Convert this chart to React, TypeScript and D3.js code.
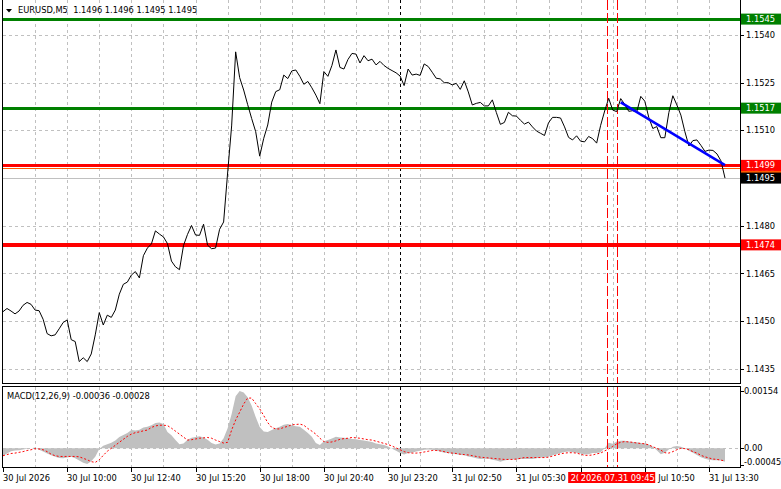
import React from "react";
import * as d3 from "d3";

const W = 781;
const H = 489;

// bars are 5-minute bars; closes sampled every 2 bars
const SAMPLE_STEP = 2;
const LAST_BAR = 360;

const priceCloses = [
  1.14530, 1.14540, 1.14532, 1.14523, 1.14532, 1.14550, 1.14559, 1.14553, 1.14535, 1.14533,
  1.14506, 1.14461, 1.14454, 1.14457, 1.14476, 1.14496, 1.14504, 1.14442, 1.14436, 1.14373,
  1.14385, 1.14373, 1.14397, 1.14457, 1.14527, 1.14488, 1.14519, 1.14512, 1.14535, 1.14585,
  1.14616, 1.14623, 1.14645, 1.14656, 1.14636, 1.14706, 1.14730, 1.14743, 1.14784, 1.14774,
  1.14765, 1.14744, 1.14689, 1.14671, 1.14662, 1.14738, 1.14773, 1.14801, 1.14771, 1.14770,
  1.14805, 1.14739, 1.14728, 1.14730, 1.14789, 1.14812, 1.14966, 1.15114, 1.15347, 1.15266,
  1.15227, 1.15181, 1.15137, 1.15096, 1.15019, 1.15075, 1.15117, 1.15189, 1.15222, 1.15228,
  1.15274, 1.15263, 1.15287, 1.15290, 1.15270, 1.15245, 1.15254, 1.15234, 1.15211, 1.15184,
  1.15285, 1.15270, 1.15304, 1.15353, 1.15298, 1.15293, 1.15323, 1.15342, 1.15340, 1.15312,
  1.15335, 1.15319, 1.15324, 1.15306, 1.15317, 1.15304, 1.15295, 1.15288, 1.15281, 1.15271,
  1.15241, 1.15293, 1.15274, 1.15277, 1.15273, 1.15309, 1.15301, 1.15283, 1.15264, 1.15262,
  1.15250, 1.15250, 1.15243, 1.15248, 1.15229, 1.15256, 1.15221, 1.15180, 1.15185, 1.15188,
  1.15177, 1.15177, 1.15196, 1.15156, 1.15119, 1.15125, 1.15157, 1.15146, 1.15145, 1.15132,
  1.15120, 1.15126, 1.15111, 1.15098, 1.15091, 1.15084, 1.15124, 1.15141, 1.15141, 1.15139,
  1.15111, 1.15078, 1.15070, 1.15083, 1.15066, 1.15064, 1.15081, 1.15074, 1.15060, 1.15116,
  1.15161, 1.15201, 1.15164, 1.15159, 1.15200, 1.15182, 1.15160, 1.15162, 1.15158, 1.15207,
  1.15192, 1.15141, 1.15106, 1.15112, 1.15077, 1.15077, 1.15156, 1.15209, 1.15180, 1.15148,
  1.15096, 1.15051, 1.15068, 1.15070, 1.15053, 1.15034, 1.15038, 1.15037, 1.15026, 1.15004,
  1.14950,
];

const macdHist = [
  -0.00020, -0.00014, -0.00008, -0.00006, -0.00005, -0.00003, -0.00001, 0, 0.00002, -0.00004,
  -0.00009, -0.00014, -0.00019, -0.00023, -0.00026, -0.00027, -0.00025, -0.00023, -0.00027, -0.00033,
  -0.00039, -0.00042, -0.00035, -0.00023, -0.00002, 0.00007, 0.00011, 0.00015, 0.00021, 0.00030,
  0.00036, 0.00041, 0.00049, 0.00048, 0.00050, 0.00056, 0.00058, 0.00062, 0.00068, 0.00069,
  0.00065, 0.00044, 0.00035, 0.00022, 0.00011, 0.00013, 0.00023, 0.00028, 0.00030, 0.00032,
  0.00029, 0.00023, 0.00014, 0.00010, 0.00013, 0.00027, 0.00054, 0.00092, 0.00140, 0.00154,
  0.00150, 0.00137, 0.00114, 0.00084, 0.00057, 0.00045, 0.00044, 0.00049, 0.00054, 0.00058,
  0.00063, 0.00065, 0.00062, 0.00059, 0.00058, 0.00050, 0.00041, 0.00031, 0.00014, 0.00009,
  0.00019, 0.00022, 0.00026, 0.00031, 0.00029, 0.00028, 0.00027, 0.00025, 0.00024, 0.00022,
  0.00021, 0.00019, 0.00017, 0.00013, 0.00011, 0.00009, 0.00005, -0.00001, -0.00007, -0.00013,
  -0.00017, -0.00013, -0.00012, -0.00009, -0.00007, -0.00004, -0.00003, -0.00004, -0.00006, -0.00009,
  -0.00012, -0.00013, -0.00015, -0.00016, -0.00018, -0.00019, -0.00022, -0.00024, -0.00027, -0.00029,
  -0.00028, -0.00028, -0.00031, -0.00033, -0.00036, -0.00033, -0.00031, -0.00030, -0.00030, -0.00029,
  -0.00029, -0.00029, -0.00029, -0.00027, -0.00025, -0.00025, -0.00023, -0.00019, -0.00016, -0.00013,
  -0.00010, -0.00009, -0.00011, -0.00012, -0.00014, -0.00017, -0.00016, -0.00013, -0.00013, -0.00011,
  0, 0.00015, 0.00012, 0.00018, 0.00020, 0.00020, 0.00018, 0.00017, 0.00016, 0.00014,
  0.00013, 0.00010, 0.00004, -0.00005, -0.00016, -0.00012, -0.00003, 0.00004, 0.00006, 0.00004,
  0, -0.00007, -0.00012, -0.00018, -0.00024, -0.00028, -0.00031, -0.00032, -0.00032, -0.00033,
  -0.00036,
];

const macdSignal = [
  -0.00020, -0.00017, -0.00014, -0.00013, -0.00011, -0.00009, -0.00006, -0.00004, -0.00001, -0.00002,
  -0.00004, -0.00009, -0.00016, -0.00020, -0.00022, -0.00022, -0.00022, -0.00022, -0.00022, -0.00023,
  -0.00027, -0.00031, -0.00036, -0.00038, -0.00031, -0.00019, -0.00008, 0, 0.00008, 0.00016,
  0.00024, 0.00032, 0.00038, 0.00042, 0.00044, 0.00047, 0.00049, 0.00056, 0.00060, 0.00062,
  0.00062, 0.00061, 0.00054, 0.00046, 0.00038, 0.00030, 0.00022, 0.00023, 0.00025, 0.00027,
  0.00028, 0.00029, 0.00027, 0.00022, 0.00018, 0.00014, 0.00016, 0.00049, 0.00076, 0.00097,
  0.00119, 0.00135, 0.00135, 0.00120, 0.00106, 0.00088, 0.00069, 0.00056, 0.00052, 0.00052,
  0.00056, 0.00059, 0.00063, 0.00064, 0.00065, 0.00062, 0.00053, 0.00046, 0.00038, 0.00027,
  0.00018, 0.00016, 0.00017, 0.00020, 0.00024, 0.00026, 0.00027, 0.00029, 0.00028, 0.00027,
  0.00025, 0.00023, 0.00022, 0.00019, 0.00016, 0.00013, 0.00010, 0.00006, 0.00001, -0.00004,
  -0.00009, -0.00012, -0.00013, -0.00013, -0.00012, -0.00010, -0.00008, -0.00006, -0.00006, -0.00007,
  -0.00009, -0.00012, -0.00013, -0.00014, -0.00016, -0.00017, -0.00018, -0.00020, -0.00022, -0.00024,
  -0.00025, -0.00026, -0.00027, -0.00028, -0.00029, -0.00030, -0.00030, -0.00030, -0.00029, -0.00027,
  -0.00025, -0.00025, -0.00025, -0.00025, -0.00025, -0.00025, -0.00024, -0.00021, -0.00018, -0.00015,
  -0.00013, -0.00012, -0.00012, -0.00013, -0.00016, -0.00019, -0.00019, -0.00018, -0.00015, -0.00013,
  -0.00007, -0.00002, 0.00005, 0.00012, 0.00016, 0.00018, 0.00017, 0.00016, 0.00014, 0.00013,
  0.00012, 0.00009, 0.00004, 0, -0.00005, -0.00012, -0.00013, -0.00009, -0.00004, 0,
  -0.00001, -0.00004, -0.00009, -0.00013, -0.00019, -0.00023, -0.00026, -0.00029, -0.00030, -0.00032,
  -0.00034,
];

const priceTicks = [1.154, 1.1525, 1.151, 1.1495, 1.148, 1.1465, 1.145, 1.1435];
const macdTicks = [0.00154, 0, -0.00045];
const macdTickLabels = ["0.00154", "0.00", "-0.00045"];

const timeTickBars = [0, 32, 64, 96, 128, 160, 192, 224, 256, 288, 320, 352];
const timeTickLabels = [
  "30 Jul 2026", "30 Jul 10:00", "30 Jul 12:40", "30 Jul 15:20", "30 Jul 18:00", "30 Jul 20:40",
  "30 Jul 23:20", "31 Jul 02:50", "31 Jul 05:30", "31 Jul 08:10", "31 Jul 10:50", "31 Jul 13:30",
];
const gridEveryBars = 16;

const levelPrices = [1.1545, 1.1517, 1.14981, 1.1499, 1.1474];
const levelLabels = ["1.1545", "1.1517", "1.1498", "1.1499", "1.1474"];
const bidPrice = 1.1495;
const bidLabel = "1.1495";

const trendBars = [308, 360];
const trendPrices = [1.15188, 1.14991];

const vLineBars = [301, 306];
const vLineLabels = ["2026.07.31 09:20", "2026.07.31 09:45"];
const separatorBar = 198;

const title = "EURUSD,M5  1.1496 1.1496 1.1495 1.1495";
const macdTitle = "MACD(12,26,9) -0.00036 -0.00028";

const levelStyle = [
  { color: "#008000", width: 3 },
  { color: "#008000", width: 3 },
  { color: "#FF5A00", width: 1 },
  { color: "#FF0000", width: 3 },
  { color: "#FF0000", width: 4 },
];

const FONT = "DejaVu Sans";
const FS = 8.3;

export default function App() {
  const L = 3, R = 740;
  const mainTop = 0, mainBottom = 383.5;
  const macdTop = 386.5, macdBottom = 467.5;

  const x = d3.scaleLinear().domain([0, LAST_BAR]).range([3, 725]);
  const y = d3.scaleLinear().domain([1.1435, 1.154]).range([368.9, 35]);
  const ym = d3.scaleLinear().domain([-0.00045, 0.00154]).range([465, 391]);

  const pricePath = d3.line<number>().x((_, i) => x(i * SAMPLE_STEP)).y((d) => y(d))(priceCloses) || "";
  const signalPath = d3.line<number>().x((_, i) => x(i * SAMPLE_STEP)).y((d) => ym(d))(macdSignal) || "";
  const histPath =
    d3
      .area<number>()
      .x((_, i) => x(i * SAMPLE_STEP))
      .y0(() => ym(0))
      .y1((d) => ym(d))(macdHist) || "";

  const gridBars: number[] = [];
  for (let b = gridEveryBars; x(b) < R - 1; b += gridEveryBars) gridBars.push(b);

  const grey = "#C0C0C0";
  const px = (v: number) => Math.round(v) + 0.5;

  const rightBox = (cy: number, color: string, text: string, key: string) => (
    <g key={key}>
      <rect x={741} y={cy - 5.5} width={40} height={11} fill={color} />
      <text x={746} y={cy + 3} fill="#FFFFFF" fontSize={FS}>{text}</text>
    </g>
  );

  return (
    <svg
      width={W}
      height={H}
      style={{ position: "absolute", left: 0, top: 0, background: "#FFFFFF" }}
      fontFamily={FONT}
    >
      <rect x={0} y={0} width={W} height={H} fill="#FFFFFF" />

      {/* vertical grid */}
      {gridBars.map((b) => (
        <g key={"vg" + b} shapeRendering="crispEdges">
          <line x1={px(x(b))} x2={px(x(b))} y1={mainTop} y2={mainBottom} stroke={grey} strokeDasharray="3,3" />
          <line x1={px(x(b))} x2={px(x(b))} y1={macdTop} y2={macdBottom} stroke={grey} strokeDasharray="3,3" />
        </g>
      ))}
      {/* horizontal grid */}
      {priceTicks.map((p) => (
        <line key={"hg" + p} x1={L} x2={R} y1={px(y(p))} y2={px(y(p))} stroke={grey} strokeDasharray="3,3" shapeRendering="crispEdges" />
      ))}
      <line x1={L} x2={R} y1={px(ym(0))} y2={px(ym(0))} stroke={grey} strokeDasharray="3,3" shapeRendering="crispEdges" />

      {/* separator */}
      <line x1={px(x(separatorBar))} x2={px(x(separatorBar))} y1={mainTop} y2={mainBottom} stroke="#000" strokeDasharray="3,3" shapeRendering="crispEdges" />
      <line x1={px(x(separatorBar))} x2={px(x(separatorBar))} y1={macdTop} y2={macdBottom} stroke="#000" strokeDasharray="3,3" shapeRendering="crispEdges" />

      {/* bid line */}
      <line x1={L} x2={R} y1={px(y(bidPrice))} y2={px(y(bidPrice))} stroke={grey} shapeRendering="crispEdges" />

      {/* levels */}
      {levelPrices.map((p, i) => (
        <line key={"lv" + i} x1={L} x2={R} y1={y(p)} y2={y(p)} stroke={levelStyle[i].color} strokeWidth={levelStyle[i].width} shapeRendering="crispEdges" />
      ))}

      {/* MACD histogram */}
      <path d={histPath} fill={grey} stroke="none" />
      <path d={signalPath} fill="none" stroke="#FF0000" strokeWidth={1} strokeDasharray="2,2" />

      {/* red vertical lines */}
      {vLineBars.map((b) => (
        <g key={"vl" + b} shapeRendering="crispEdges">
          <line x1={px(x(b))} x2={px(x(b))} y1={mainTop} y2={mainBottom} stroke="#FF0000" strokeDasharray="10,3" />
          <line x1={px(x(b))} x2={px(x(b))} y1={macdTop} y2={macdBottom} stroke="#FF0000" strokeDasharray="10,3" />
        </g>
      ))}

      {/* price line */}
      <path d={pricePath} fill="none" stroke="#000000" strokeWidth={1} />

      {/* trend line */}
      <line x1={x(trendBars[0])} y1={y(trendPrices[0])} x2={x(trendBars[1])} y2={y(trendPrices[1])} stroke="#0000FF" strokeWidth={2.5} />

      {/* frames */}
      <g shapeRendering="crispEdges" stroke="#000" fill="none">
        <line x1={2.5} x2={2.5} y1={0} y2={mainBottom} />
        <line x1={R + 0.5} x2={R + 0.5} y1={0} y2={mainBottom} />
        <line x1={2.5} x2={R + 0.5} y1={mainBottom} y2={mainBottom} />
        <rect x={2.5} y={macdTop} width={R - 2} height={macdBottom - macdTop} />
      </g>

      {/* title */}
      <path d="M6,9 L12,9 L9,12.5 Z" fill="#000" />
      <text x={18} y={13} fontSize={FS} fill="#000" style={{ whiteSpace: "pre" }}>{title}</text>
      <text x={7} y={398.5} fontSize={FS} fill="#000">{macdTitle}</text>

      {/* price axis */}
      {priceTicks.map((p) => (
        <g key={"pt" + p}>
          <line x1={R} x2={R + 4} y1={px(y(p))} y2={px(y(p))} stroke="#000" shapeRendering="crispEdges" />
          <text x={746} y={y(p) + 3} fontSize={FS} fill="#000">{p.toFixed(4)}</text>
        </g>
      ))}
      {macdTicks.map((v, i) => (
        <g key={"mt" + i}>
          <line x1={R} x2={R + 4} y1={px(ym(v))} y2={px(ym(v))} stroke="#000" shapeRendering="crispEdges" />
          <text x={744} y={Math.min(ym(v) + 3, 465)} fontSize={FS} fill="#000">{macdTickLabels[i]}</text>
        </g>
      ))}

      {/* level labels */}
      {levelPrices.map((p, i) => rightBox(y(p), levelStyle[i].color, levelLabels[i], "lb" + i))}
      {rightBox(y(bidPrice), "#000000", bidLabel, "bid")}

      {/* time axis */}
      {timeTickBars.map((b, i) => (
        <g key={"tt" + b}>
          <line x1={px(x(b))} x2={px(x(b))} y1={macdBottom} y2={macdBottom + 4} stroke="#000" shapeRendering="crispEdges" />
          <text x={Math.round(x(b))} y={481} fontSize={FS} fill="#000">{timeTickLabels[i]}</text>
        </g>
      ))}
      {vLineBars.map((b, i) => (
        <g key={"vlab" + b}>
          <rect x={x(b) - 38.5} y={472} width={77} height={11} fill="#FF0000" />
          <text x={x(b) - 36} y={481} fontSize={FS} fill="#FFFFFF">{vLineLabels[i]}</text>
        </g>
      ))}
    </svg>
  );
}
